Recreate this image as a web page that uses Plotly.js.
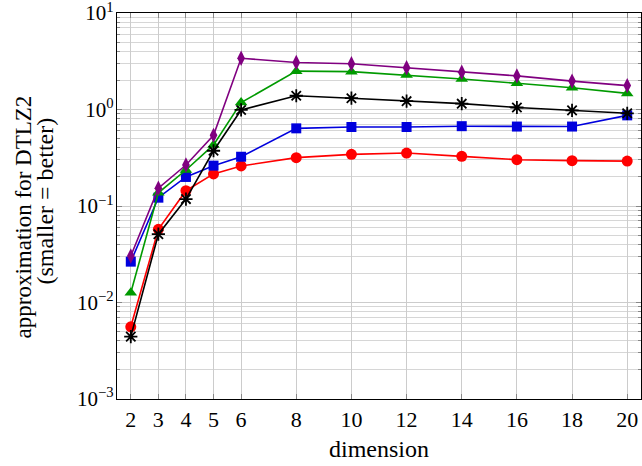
<!DOCTYPE html>
<html>
<head>
<meta charset="utf-8">
<script src="https://cdn.plot.ly/plotly-3.0.1.min.js"></script>
<style>html,body{margin:0;padding:0;background:#fff;}#chart{width:642px;height:466px;}</style>
</head>
<body>
<div id="chart"></div>
<script>
const dims = [2, 3, 4, 5, 6, 8, 10, 12, 14, 16, 18, 20];
const xTickLabels = ["2","3","4","5","6","8","10","12","14","16","18","20"];
const yTickVals = [0.001, 0.01, 0.1, 1, 10];
const yTickLabels = ["10<sup>−3</sup>","10<sup>−2</sup>","10<sup>−1</sup>","10<sup>0</sup>","10<sup>1</sup>"];
const yTitleLine1 = 'approximation for DTLZ2';
const yTitleLine2 = '(smaller = better)';
const purpleVals = [0.0303, 0.153, 0.266, 0.54, 3.4, 3.07, 2.98, 2.71, 2.43, 2.23, 1.97, 1.77];
const greenVals  = [0.0126, 0.137, 0.236, 0.43, 1.18, 2.5, 2.47, 2.28, 2.07, 1.87, 1.68, 1.47];
const blackVals  = [0.00443, 0.051, 0.118, 0.374, 0.99, 1.39, 1.31, 1.22, 1.15, 1.05, 0.98, 0.914];
const blueVals   = [0.0265, 0.122, 0.20, 0.262, 0.324, 0.638, 0.659, 0.659, 0.672, 0.666, 0.666, 0.87];
const redVals    = [0.0056, 0.0573, 0.144, 0.215, 0.26, 0.317, 0.343, 0.354, 0.327, 0.302, 0.295, 0.292];

const minorVals = [];
for (const d of [0.001, 0.01, 0.1, 1]) for (let k = 2; k <= 9; k++) minorVals.push(+(d * k).toPrecision(3));

const font = 'Liberation Serif';
function tr(y, color, symbol, size, extra) {
  return Object.assign({
    x: dims, y: y, type: 'scatter', mode: 'lines+markers',
    line: {color: color, width: 1.6},
    marker: {color: color, symbol: symbol, size: size, line: {width: 0, color: color}},
    showlegend: false, hoverinfo: 'skip'
  }, extra || {});
}
const data = [
  tr(redVals, '#ff0000', 'circle', 11),
  tr(blueVals, '#0000dd', 'square', 10),
  tr(greenVals, '#009a00', 'triangle-up', 11),
  tr(purpleVals, '#800080', 'diamond-tall', 11),
  tr(blackVals, '#000000', 'asterisk-open', 11, {marker: {color: '#000', symbol: 'asterisk-open', size: 11, line: {width: 1.8, color: '#000'}}})
];
const layout = {
  width: 642, height: 466,
  margin: {l: 117, r: 1, t: 13, b: 67},
  paper_bgcolor: '#fff', plot_bgcolor: '#fff',
  font: {family: font, size: 22, color: '#000'},
  xaxis: {
    range: [1.5, 20.5], tickvals: dims, ticktext: xTickLabels,
    showgrid: true, gridcolor: '#cccccc', gridwidth: 1,
    ticks: 'inside', ticklen: 5, tickcolor: '#888', mirror: 'ticks',
    showline: true, linecolor: '#000', linewidth: 1.2, zeroline: false,
    tickfont: {family: font, size: 22},
    title: {text: 'dimension', font: {family: font, size: 24}, standoff: 9}
  },
  yaxis: {
    type: 'log', range: [-3.0005, 1.0005], tickvals: yTickVals, ticktext: yTickLabels,
    ticklabeloverflow: 'allow', ticklabelstandoff: -2,
    showgrid: true, gridcolor: '#cccccc', gridwidth: 1,
    ticks: 'inside', ticklen: 5, tickcolor: '#888', mirror: 'ticks',
    showline: true, linecolor: '#000', linewidth: 1.2, zeroline: false,
    tickfont: {family: font, size: 21},
    minor: {tickvals: minorVals, showgrid: true, gridcolor: '#d6d6d6', ticks: 'inside', ticklen: 3, tickcolor: '#888'}
  },
  annotations: [
    {text: yTitleLine1, xref: 'paper', yref: 'paper', x: -0.179, y: 0.471, textangle: -90,
     showarrow: false, xanchor: 'center', yanchor: 'middle', font: {family: font, size: 23, color: '#000'}},
    {text: yTitleLine2, xref: 'paper', yref: 'paper', x: -0.137, y: 0.512, textangle: -90,
     showarrow: false, xanchor: 'center', yanchor: 'middle', font: {family: font, size: 24, color: '#000'}}
  ]
};
Plotly.newPlot('chart', data, layout, {staticPlot: true, displayModeBar: false});
</script>
</body>
</html>
